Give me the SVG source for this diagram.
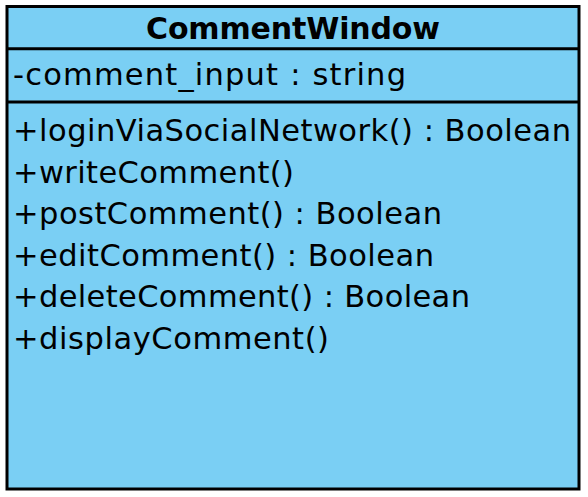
<svg xmlns="http://www.w3.org/2000/svg" width="588" height="497" viewBox="0 0 588 497">
  <style>
    .box { fill: #7ACFF4; stroke: #000; stroke-width: 3; }
    .sep { stroke: #000; stroke-width: 3; }
    .title { font-family: "DejaVu Sans", "Liberation Sans", sans-serif; font-weight: bold; font-size: 30px; fill: #000; }
    .member { font-family: "DejaVu Sans", "Liberation Sans", sans-serif; font-size: 30.5px; fill: #000; }
  </style>
  <rect width="588" height="497" fill="#fff"/>
  <g id="CommentWindow">
    <rect class="box" x="7" y="6.5" width="572" height="482.5"/>
    <line class="sep" x1="7" y1="48.7" x2="579" y2="48.7"/>
    <line class="sep" x1="7" y1="102" x2="579" y2="102"/>
    <text class="title" x="293" y="38.5" text-anchor="middle" textLength="294" lengthAdjust="spacing">CommentWindow</text>
    <text class="member" x="13" y="85" textLength="393" lengthAdjust="spacing">-comment_input : string</text>
    <text class="member" x="13" y="141" textLength="558" lengthAdjust="spacing">+loginViaSocialNetwork() : Boolean</text>
    <text class="member" x="13" y="182.5" textLength="281" lengthAdjust="spacing">+writeComment()</text>
    <text class="member" x="13" y="224" textLength="429" lengthAdjust="spacing">+postComment() : Boolean</text>
    <text class="member" x="13" y="265.5" textLength="421" lengthAdjust="spacing">+editComment() : Boolean</text>
    <text class="member" x="13" y="307" textLength="457" lengthAdjust="spacing">+deleteComment() : Boolean</text>
    <text class="member" x="13" y="348.5" textLength="316" lengthAdjust="spacing">+displayComment()</text>
  </g>
</svg>
